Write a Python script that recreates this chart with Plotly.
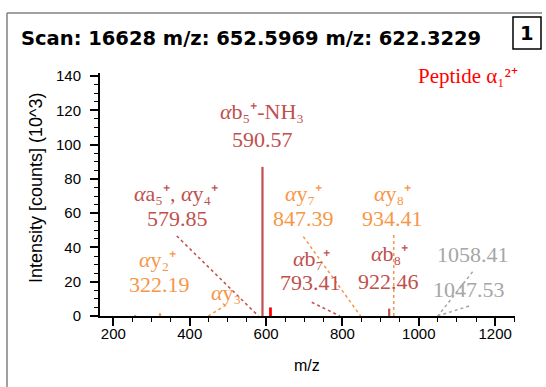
import plotly.graph_objects as go

# ---------------- data ----------------
peak_mz = [257.0, 322.19, 590.57, 611.5, 922.46]
peak_int = [0.6, 1.6, 87.0, 5.0, 4.3]
peak_kind = ["gray", "orange", "alpha", "red", "alpha"]

label_names = ["αb₅⁺-NH₃", "αa₅⁺, αy₄⁺", "αy₇⁺", "αy₈⁺", "αy₂⁺",
               "αy₃", "αb₇⁺", "αb₈⁺", "", ""]
label_mz = ["590.57", "579.85", "847.39", "934.41", "322.19", "", "793.41", "922.46", "1058.41", "1047.53"]
label_kind = ["alpha", "alpha", "orange", "orange", "orange", "orange", "alpha", "alpha", "gray", "gray"]

x_ticks = [200, 400, 600, 800, 1000, 1200]
y_ticks = [0, 20, 40, 60, 80, 100, 120, 140]

title_text = "Scan: 16628 m/z: 652.5969 m/z: 622.3229"
peptide_text = "Peptide α₁²⁺"

# ---------------- styles / layout positions ----------------
COL = {"alpha": "#C0504D", "orange": "#F79646", "gray": "#A6A6A6", "red": "#FF0000"}
SERIF = "Liberation Serif"
SANS = "Liberation Sans"

# label placement (data coords): name position, value position
name_pos = [(589.5, 119.2), (364, 71.7), (697, 71.7), (930, 71.7), (314.5, 32.7),
            (495, 14.0), (718, 33.8), (922, 36.7), None, None]
value_pos = [(589.5, 102.7), (366.8, 56.6), (697, 56.6), (930, 56.6), (322, 18.1),
             None, (716.5, 19.3), (919.5, 20.4), (1142, 35.6), (1131.6, 15.2)]
# dotted leader lines (data coords)
leaders = [((366, 46.7), (579.85, 0), "alpha"),
           ((495, 6.4), (449, 0), "orange"),
           ((697.6, 46.3), (847.39, 0), "orange"),
           ((719.6, 8.0), (793.41, 0), "alpha"),
           ((934.41, 47.3), (934.41, 0), "orange"),
           ((1141, 25.8), (1050, 0), "gray"),
           ((1131.6, 5.8), (1049, 0), "gray")]

W, H = 546, 387
L, R, T, B = 100, 515, 73, 316


def px(x):
    return (x - L) / (R - L)


def py(y):
    return (B - y) / (B - T)


fig = go.Figure()

# leader lines
for (x0, y0), (x1, y1), k in leaders:
    fig.add_trace(go.Scatter(x=[x0, x1], y=[y0, y1], mode="lines",
                             line=dict(color=COL[k], width=1.5, dash="dot"),
                             hoverinfo="skip", showlegend=False))

# peaks
for mz, it, k in zip(peak_mz, peak_int, peak_kind):
    fig.add_trace(go.Scatter(x=[mz, mz], y=[0, it], mode="lines",
                             line=dict(color=COL[k], width=2.2 if k != "red" else 2.8),
                             hoverinfo="skip", showlegend=False))

annotations = []
for nm, val, k, npos, vpos in zip(label_names, label_mz, label_kind, name_pos, value_pos):
    if nm and npos:
        annotations.append(dict(x=npos[0], y=npos[1], xref="x", yref="y", text=nm.replace("α", "<i>α</i>"),
                                showarrow=False, font=dict(family=SERIF, size=22, color=COL[k]),
                                xanchor="center", yanchor="middle"))
    if val and vpos:
        annotations.append(dict(x=vpos[0], y=vpos[1], xref="x", yref="y", text=val,
                                showarrow=False, font=dict(family=SERIF, size=22, color=COL[k]),
                                xanchor="center", yanchor="middle"))

# title & decorations
annotations.append(dict(x=px(19), y=py(38), xref="paper", yref="paper", text="<b>" + title_text + "</b>",
                        showarrow=False, xanchor="left", yanchor="middle",
                        font=dict(family="DejaVu Sans", size=19.5, color="black")))
annotations.append(dict(x=px(527), y=py(33), xref="paper", yref="paper", text="<b>1</b>",
                        showarrow=False, xanchor="center", yanchor="middle",
                        font=dict(family="DejaVu Sans", size=19.5, color="black")))
annotations.append(dict(x=px(516), y=py(-7), xref="paper", yref="paper", text="<b>MS</b>",
                        showarrow=False, xanchor="center", yanchor="middle",
                        font=dict(family="DejaVu Sans", size=19, color="black")))
annotations.append(dict(x=px(520), y=py(76), xref="paper", yref="paper", text=peptide_text,
                        showarrow=False, xanchor="right", yanchor="middle",
                        font=dict(family=SERIF, size=21, color="#FF0000")))
annotations.append(dict(x=px(36), y=py(188), xref="paper", yref="paper", text="Intensity [counts] (10^3)",
                        showarrow=False, xanchor="center", yanchor="middle", textangle=-90,
                        font=dict(family=SANS, size=18, color="black")))
annotations.append(dict(x=px(307), y=py(365), xref="paper", yref="paper", text="m/z",
                        showarrow=False, xanchor="center", yanchor="middle",
                        font=dict(family=SANS, size=16, color="black")))

shapes = [
    dict(type="line", xref="paper", yref="paper", x0=px(7), x1=px(542), y0=py(13), y1=py(13),
         line=dict(color="#808080", width=1.5)),
    dict(type="line", xref="paper", yref="paper", x0=px(7), x1=px(7), y0=py(13), y1=py(400),
         line=dict(color="#808080", width=1.5)),
    dict(type="rect", xref="paper", yref="paper", x0=px(513), x1=px(541), y0=py(17), y1=py(49),
         line=dict(color="black", width=1.5)),
]

fig.update_layout(
    width=W, height=H,
    margin=dict(l=L, r=W - R, t=T, b=H - B),
    paper_bgcolor="white", plot_bgcolor="white",
    showlegend=False,
    annotations=annotations,
    shapes=shapes,
)
fig.update_xaxes(range=[165, 1252], tickvals=x_ticks, ticks="outside", ticklen=8, tickwidth=1.5,
                 tickcolor="black", showline=True, linecolor="black", linewidth=2,
                 showgrid=False, zeroline=False, ticklabelstandoff=-5,
                 minor=dict(dtick=50, tick0=0, ticks="outside", ticklen=4, tickwidth=1.2, tickcolor="black",
                            showgrid=False),
                 tickfont=dict(family=SANS, size=15, color="black"))
fig.update_yaxes(range=[0, 141.75], tickvals=y_ticks, ticks="outside", ticklen=8, tickwidth=1.5,
                 tickcolor="black", showline=True, linecolor="black", linewidth=2,
                 showgrid=False, zeroline=False, ticklabelstandoff=6,
                 minor=dict(dtick=5, tick0=0, ticks="outside", ticklen=4, tickwidth=1.2, tickcolor="black",
                            showgrid=False),
                 tickfont=dict(family=SANS, size=15, color="black"))

fig.write_html("out.html")
